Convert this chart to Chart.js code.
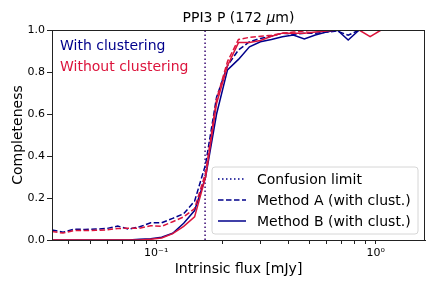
<!DOCTYPE html>
<html>
<head>
<meta charset="utf-8">
<script src="https://cdn.jsdelivr.net/npm/chart.js@4/dist/chart.umd.min.js"></script>
<style>
  html, body { margin: 0; padding: 0; background: #fff; }
  #wrap { width: 436px; height: 291px; }
</style>
</head>
<body>
<div id="wrap"><canvas id="chart" width="436" height="291"></canvas></div>
<script>
// flux bins (mJy), 0.05 dex apart
const flux = [0.0335, 0.0376, 0.0422, 0.0473, 0.0531, 0.0596, 0.0668, 0.0750, 0.0841, 0.0944,
  0.1059, 0.1189, 0.1334, 0.1496, 0.1679, 0.1884, 0.2113, 0.2371, 0.2661, 0.2985,
  0.3350, 0.3758, 0.4217, 0.4732, 0.5309, 0.5957, 0.6683, 0.7499, 0.8414, 0.9441,
  1.059, 1.189, 1.334, 1.496, 1.679];

// completeness, with clustering
const methodAClust = [0.048, 0.037, 0.052, 0.050, 0.052, 0.055, 0.066, 0.052, 0.063, 0.082,
  0.082, 0.103, 0.125, 0.185, 0.36, 0.68, 0.83, 0.905, 0.944, 0.96,
  0.97, 0.985, 0.98, 0.985, 0.985, 0.99, 0.995, 0.975, 1, 1,
  1, 1, 1, 1, 1];
const methodBClust = [0, 0, 0, 0, 0, 0, 0, 0, 0.003, 0.006,
  0.013, 0.032, 0.08, 0.14, 0.30, 0.60, 0.81, 0.86, 0.92, 0.944,
  0.955, 0.968, 0.976, 0.957, 0.976, 0.99, 1, 0.952, 1, 1,
  1, 1, 1, 1, 1];

// completeness, without clustering
const methodANoClust = [0.040, 0.033, 0.045, 0.045, 0.046, 0.048, 0.055, 0.056, 0.056, 0.068,
  0.065, 0.087, 0.11, 0.15, 0.32, 0.67, 0.85, 0.955, 0.965, 0.97,
  0.975, 0.985, 0.99, 0.995, 1, 1, 1, 1, 1, 1,
  1, 1, 1, 1, 1];
const methodBNoClust = [0, 0, 0, 0, 0, 0, 0, 0, 0, 0.004,
  0.01, 0.03, 0.065, 0.11, 0.30, 0.65, 0.83, 0.94, 0.94, 0.95,
  0.97, 0.985, 0.985, 0.985, 0.99, 0.995, 1, 1, 1, 0.968,
  1, 1, 1, 1, 1];

const confusionLimit = 0.167;
const xTicks = [0.04, 0.05, 0.06, 0.07, 0.08, 0.09, 0.1, 0.2, 0.3, 0.4, 0.5, 0.6, 0.7, 0.8, 0.9, 1];
const yTicks = [0, 0.2, 0.4, 0.6, 0.8, 1.0];

const NAVY = '#00008b';
const RED = '#dc143c';
const FONT = '"DejaVu Sans", sans-serif';

function pts(ys) {
    return flux.map((x, i) => ({ x: x, y: ys[i] }));
}

const lineStyle = { pointRadius: 0, borderWidth: 1.5, fill: false, tension: 0 };

// text, legend and frame drawn on the canvas
const extras = {
    id: 'extras',
    afterDraw(chart) {
        const ctx = chart.ctx;
        const a = chart.chartArea;
        ctx.save();

        // frame
        ctx.strokeStyle = '#222';
        ctx.lineWidth = 1;
        ctx.strokeRect(a.left + 0.5, a.top + 0.5, a.right - a.left - 1, a.bottom - a.top);

        // title, with an italic mu
        ctx.fillStyle = '#000';
        ctx.textBaseline = 'middle';
        ctx.textAlign = 'left';
        const parts = [['PPI3 P (172 ', ''], ['μ', 'italic '], ['m)', '']];
        let tw = 0;
        parts.forEach(p => { ctx.font = p[1] + '14px ' + FONT; tw += ctx.measureText(p[0]).width; });
        let tx = (a.left + a.right) / 2 - tw / 2;
        parts.forEach(p => {
            ctx.font = p[1] + '14px ' + FONT;
            ctx.fillText(p[0], tx, 18);
            tx += ctx.measureText(p[0]).width;
        });

        // axis titles
        ctx.textAlign = 'center';
        ctx.font = '14px ' + FONT;
        ctx.fillText('Intrinsic flux [mJy]', (a.left + a.right) / 2, 269);
        ctx.save();
        ctx.translate(18, (a.top + a.bottom) / 2);
        ctx.rotate(-Math.PI / 2);
        ctx.fillText('Completeness', 0, 0);
        ctx.restore();

        // annotations
        ctx.textAlign = 'left';
        ctx.font = '14px ' + FONT;
        ctx.fillStyle = NAVY;
        ctx.fillText('With clustering', 60, 46);
        ctx.fillStyle = RED;
        ctx.fillText('Without clustering', 60, 67);

        // legend
        const lx = 212, ly = 167, lw = 206, lh = 67, r = 3;
        ctx.beginPath();
        ctx.moveTo(lx + r, ly);
        ctx.arcTo(lx + lw, ly, lx + lw, ly + lh, r);
        ctx.arcTo(lx + lw, ly + lh, lx, ly + lh, r);
        ctx.arcTo(lx, ly + lh, lx, ly, r);
        ctx.arcTo(lx, ly, lx + lw, ly, r);
        ctx.closePath();
        ctx.fillStyle = 'rgba(255,255,255,0.85)';
        ctx.fill();
        ctx.strokeStyle = '#d6d6d6';
        ctx.stroke();

        const items = [
            { label: 'Confusion limit', dash: [1.5, 2.5] },
            { label: 'Method A (with clust.)', dash: [5.5, 2.5] },
            { label: 'Method B (with clust.)', dash: [] }
        ];
        items.forEach((it, i) => {
            const y = 179 + i * 21;
            ctx.strokeStyle = NAVY;
            ctx.lineWidth = 1.5;
            ctx.setLineDash(it.dash);
            ctx.beginPath();
            ctx.moveTo(218, y);
            ctx.lineTo(246, y);
            ctx.stroke();
            ctx.setLineDash([]);
            ctx.fillStyle = '#000';
            ctx.font = '14px ' + FONT;
            ctx.fillText(it.label, 257, y + 1);
        });

        ctx.restore();
    }
};

new Chart(document.getElementById('chart'), {
    type: 'line',
    data: {
        datasets: [
            Object.assign({ data: pts(methodBNoClust), borderColor: RED }, lineStyle),
            Object.assign({ data: pts(methodANoClust), borderColor: RED, borderDash: [5.5, 2.5] }, lineStyle),
            Object.assign({ data: pts(methodBClust), borderColor: NAVY }, lineStyle),
            Object.assign({ data: pts(methodAClust), borderColor: NAVY, borderDash: [5.5, 2.5] }, lineStyle),
            Object.assign({
                data: [{ x: confusionLimit, y: 0 }, { x: confusionLimit, y: 1 }],
                borderColor: '#3a0a74', borderDash: [1.5, 2.5]
            }, lineStyle)
        ]
    },
    options: {
        responsive: false,
        animation: false,
        layout: { padding: { top: 30, right: 11, left: 0, bottom: 0 } },
        plugins: { legend: { display: false }, tooltip: { enabled: false } },
        scales: {
            x: {
                type: 'logarithmic',
                min: 0.0335,
                max: 1.679,
                afterBuildTicks: s => { s.ticks = xTicks.map(v => ({ value: v })); },
                afterFit: s => { s.height = 51; },
                grid: { drawOnChartArea: false, tickLength: 4, color: '#222' },
                border: { color: '#222' },
                ticks: {
                    autoSkip: false,
                    maxRotation: 0,
                    padding: 3,
                    color: '#000',
                    font: { family: FONT, size: 11 },
                    callback: v => v === 0.1 ? '10⁻¹' : (v === 1 ? '10⁰' : '')
                }
            },
            y: {
                min: 0,
                max: 1,
                afterBuildTicks: s => { s.ticks = yTicks.map(v => ({ value: v })); },
                afterFit: s => { s.width = 52; },
                grid: { drawOnChartArea: false, tickLength: 5, color: '#222' },
                border: { color: '#222' },
                ticks: {
                    padding: 2,
                    color: '#000',
                    font: { family: FONT, size: 11 },
                    callback: v => v.toFixed(1)
                }
            }
        }
    },
    plugins: [extras]
});
</script>
</body>
</html>
